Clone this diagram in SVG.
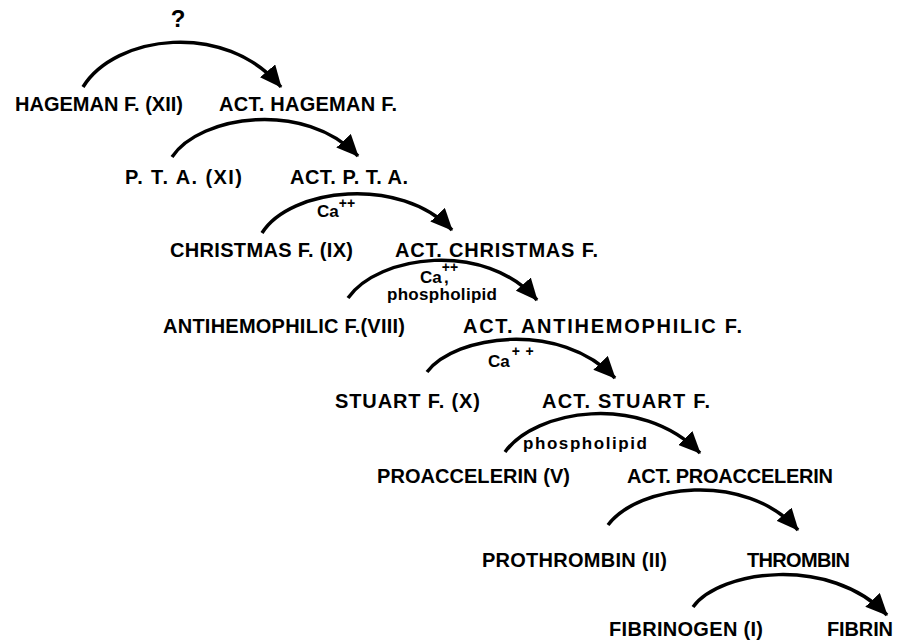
<svg xmlns="http://www.w3.org/2000/svg" width="898" height="642" viewBox="0 0 898 642">
<style>
.t{font-family:"Liberation Sans",Arial,sans-serif;font-weight:bold;font-size:20px;fill:#000}
.l{font-family:"Liberation Sans",Arial,sans-serif;font-weight:bold;font-size:17px;fill:#000}
.s{font-size:14px}
.c{fill:none;stroke:#000;stroke-width:3.5;marker-end:url(#ah)}
</style>
<defs>
<marker id="ah" markerUnits="userSpaceOnUse" viewBox="0 0 22 20" refX="21" refY="10" markerWidth="22" markerHeight="20" orient="auto">
<path d="M0,0 L22,10 L0,20 Z" fill="#000"/>
</marker>
</defs>
<rect width="898" height="642" fill="#fff"/>
<g id="connectors">
<path class="c" d="M83,87 C115,35 225,20 281,87"/>
<path class="c" d="M172,157 C200,115 305,100 358,156"/>
<path class="c" d="M262,233 C290,188 400,175 452,230"/>
<path class="c" d="M348,298 C378,255 485,240 537,300"/>
<path class="c" d="M427,372 C455,335 560,320 615,378"/>
<path class="c" d="M505,452 C535,410 640,392 700,453"/>
<path class="c" d="M608,525 C638,485 745,470 798,530"/>
<path class="c" d="M693,607 C720,570 830,555 887,615"/>
<text class="t" x="178" y="27" text-anchor="middle" style="font-size:24px">?</text>
<text class="l" x="317" y="217">Ca<tspan class="s" dy="-9">++</tspan></text>
<text class="l" x="420" y="283">Ca<tspan class="s" dy="-11">++</tspan><tspan dx="-14" dy="11">,</tspan></text>
<text class="l" x="387" y="300" textLength="110" lengthAdjust="spacing">phospholipid</text>
<text class="l" x="488" y="367">Ca<tspan class="s" dx="2" dy="-11" textLength="22" lengthAdjust="spacing">++</tspan></text>
<text class="l" x="523" y="449" textLength="124" lengthAdjust="spacing">phospholipid</text>
</g>
<g id="n-hageman"><text class="t" x="15" y="111" textLength="168" lengthAdjust="spacing">HAGEMAN F. (XII)</text></g>
<g id="n-act-hageman"><text class="t" x="219" y="111" textLength="178" lengthAdjust="spacing">ACT.  HAGEMAN F.</text></g>
<g id="n-pta"><text class="t" x="125" y="184" textLength="117" lengthAdjust="spacing">P. T. A. (XI)</text></g>
<g id="n-act-pta"><text class="t" x="290" y="184" textLength="118" lengthAdjust="spacing">ACT.  P. T. A.</text></g>
<g id="n-christmas"><text class="t" x="170" y="257" textLength="183" lengthAdjust="spacing">CHRISTMAS F. (IX)</text></g>
<g id="n-act-christmas"><text class="t" x="395" y="257" textLength="203" lengthAdjust="spacing">ACT.  CHRISTMAS F.</text></g>
<g id="n-antihemophilic"><text class="t" x="163" y="333" textLength="242" lengthAdjust="spacing">ANTIHEMOPHILIC F.(VIII)</text></g>
<g id="n-act-antihemophilic"><text class="t" x="463" y="333" textLength="279" lengthAdjust="spacing">ACT.  ANTIHEMOPHILIC  F.</text></g>
<g id="n-stuart"><text class="t" x="335" y="408" textLength="145" lengthAdjust="spacing">STUART F.  (X)</text></g>
<g id="n-act-stuart"><text class="t" x="542" y="408" textLength="168" lengthAdjust="spacing">ACT.  STUART F.</text></g>
<g id="n-proaccelerin"><text class="t" x="377" y="483" textLength="193" lengthAdjust="spacing">PROACCELERIN (V)</text></g>
<g id="n-act-proaccelerin"><text class="t" x="627" y="483" textLength="206" lengthAdjust="spacing">ACT. PROACCELERIN</text></g>
<g id="n-prothrombin"><text class="t" x="482" y="567" textLength="185" lengthAdjust="spacing">PROTHROMBIN  (II)</text></g>
<g id="n-thrombin"><text class="t" x="747" y="567" textLength="103" lengthAdjust="spacing">THROMBIN</text></g>
<g id="n-fibrinogen"><text class="t" x="609" y="636" textLength="154" lengthAdjust="spacing">FIBRINOGEN (I)</text></g>
<g id="n-fibrin"><text class="t" x="827" y="636" textLength="66" lengthAdjust="spacing">FIBRIN</text></g>
</svg>
